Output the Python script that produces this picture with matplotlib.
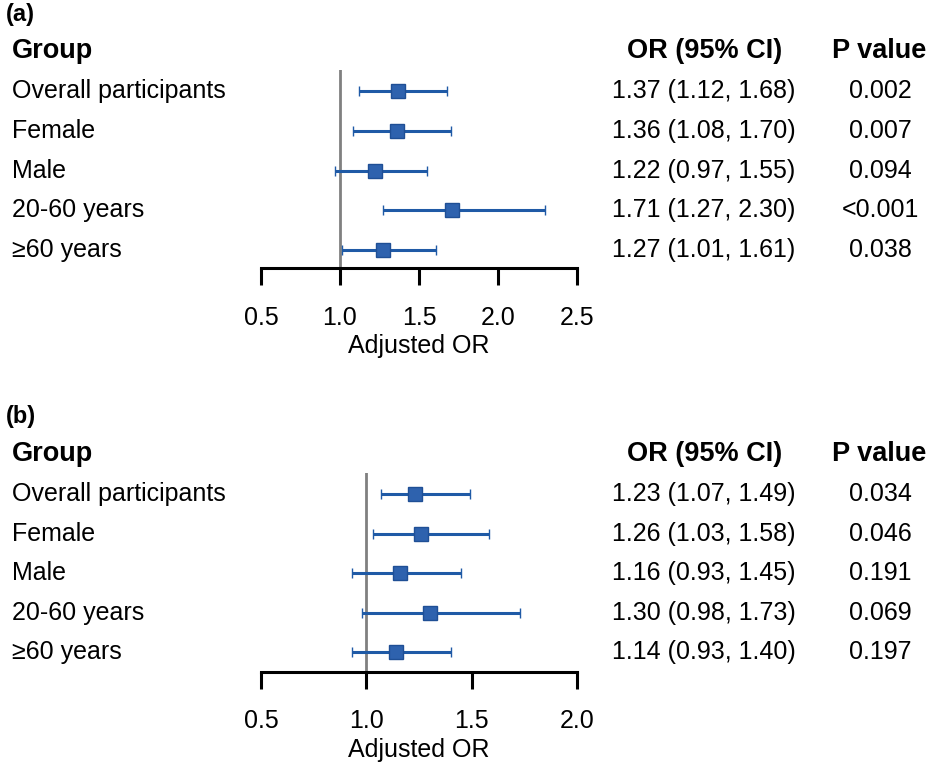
import matplotlib
matplotlib.use('Agg')
import matplotlib.pyplot as plt
from matplotlib.transforms import blended_transform_factory

plt.rcParams['font.family'] = ['Liberation Sans', 'DejaVu Sans']

groups = ['Overall participants', 'Female', 'Male', '20-60 years', '≥60 years']

# panel (a)
or_a = [1.37, 1.36, 1.22, 1.71, 1.27]
lo_a = [1.12, 1.08, 0.97, 1.27, 1.01]
hi_a = [1.68, 1.70, 1.55, 2.30, 1.61]
p_a = ['0.002', '0.007', '0.094', '<0.001', '0.038']
ticks_a = [0.5, 1.0, 1.5, 2.0, 2.5]

# panel (b)
or_b = [1.23, 1.26, 1.16, 1.30, 1.14]
lo_b = [1.07, 1.03, 0.93, 0.98, 0.93]
hi_b = [1.49, 1.58, 1.45, 1.73, 1.40]
p_b = ['0.034', '0.046', '0.191', '0.069', '0.197']
ticks_b = [0.5, 1.0, 1.5, 2.0]

W, H = 936, 769
fig = plt.figure(figsize=(W / 100, H / 100), dpi=100)

line_c = '#1F5AA6'
box_c = '#2E62AE'


def panel(top_px, bottom_px, ymax, tag, tag_y, orv, lo, hi, pv, ticks):
    ax = fig.add_axes([261 / W, 1 - bottom_px / H, 316 / W, (bottom_px - top_px) / H])
    ys = list(range(1, len(orv) + 1))
    err = [[o - l for o, l in zip(orv, lo)], [h - o for o, h in zip(orv, hi)]]
    ax.axvline(1.0, color='#808080', lw=2.0, zorder=1)
    ax.errorbar(orv, ys, xerr=err, fmt='s', color=line_c, ecolor=line_c,
                elinewidth=2.2, capsize=3.6, capthick=2.2, ms=10,
                mfc=box_c, mec='#1F4F95', mew=1, zorder=3)
    ax.set_xlim(ticks[0], ticks[-1])
    ax.set_ylim(ymax, 0.47)
    ax.set_xticks(ticks)
    ax.set_xticklabels([f'{t:.1f}' for t in ticks])
    ax.set_yticks([])
    for s in ['top', 'right', 'left']:
        ax.spines[s].set_visible(False)
    ax.spines['bottom'].set_linewidth(2.2)
    ax.spines['bottom'].set_capstyle('projecting')
    ax.tick_params(axis='x', direction='out', length=12, width=2.2,
                   labelsize=18, pad=15)
    ax.set_xlabel('Adjusted OR', fontsize=18, labelpad=3)

    tr = blended_transform_factory(fig.transFigure, ax.transData)
    fs = 18
    hs = 19.5
    ax.text(12 / W, 0.0, 'Group', transform=tr, fontsize=hs, fontweight='bold',
            ha='left', va='center', clip_on=False)
    ax.text(705 / W, 0.0, 'OR (95% CI)', transform=tr, fontsize=hs,
            fontweight='bold', ha='center', va='center', clip_on=False)
    ax.text(879 / W, 0.0, 'P value', transform=tr, fontsize=hs,
            fontweight='bold', ha='center', va='center', clip_on=False)
    for y, g, o, l, h, p in zip(ys, groups, orv, lo, hi, pv):
        ax.text(12 / W, y, g, transform=tr, fontsize=fs, ha='left',
                va='center', clip_on=False)
        ax.text(704 / W, y, f'{o:.2f} ({l:.2f}, {h:.2f})', transform=tr,
                fontsize=fs, ha='center', va='center', clip_on=False)
        ax.text(880 / W, y, p, transform=tr, fontsize=fs, ha='center',
                va='center', clip_on=False)
    fig.text(6 / W, 1 - tag_y / H, tag, fontsize=17, fontweight='bold',
             ha='left', va='center')
    return ax


panel(70, 268, 5.45, '(a)', 15, or_a, lo_a, hi_a, p_a, ticks_a)
panel(473, 672, 5.5, '(b)', 416, or_b, lo_b, hi_b, p_b, ticks_b)

fig.savefig('out.png', dpi=100)
